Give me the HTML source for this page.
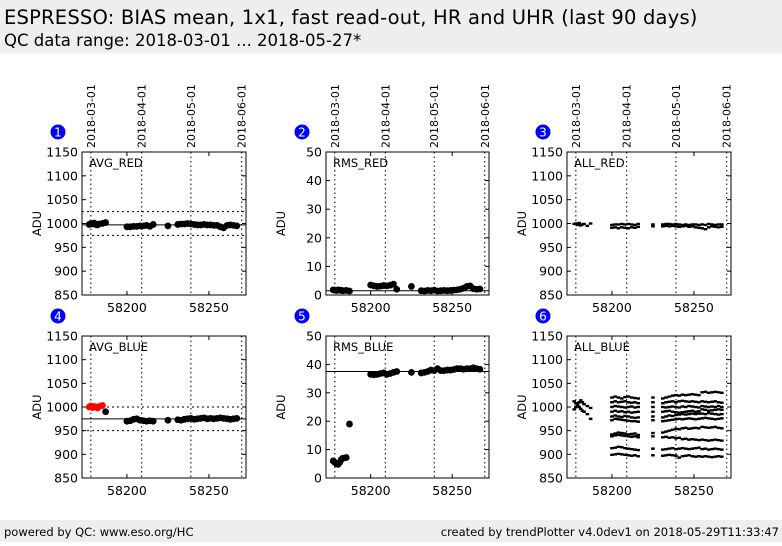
<!DOCTYPE html>
<html><head><meta charset="utf-8"><style>
body{margin:0;width:782px;height:542px;background:#fff;font-family:"DejaVu Sans","Liberation Sans",sans-serif;overflow:hidden}
svg text{font-family:"DejaVu Sans","Liberation Sans",sans-serif}
</style></head><body>
<svg id="c" width="782" height="542" xmlns="http://www.w3.org/2000/svg">
<rect x="0" y="0" width="782" height="53" fill="#eeeeee"/>
<text x="4" y="24" font-size="19.5" letter-spacing="0.2">ESPRESSO: BIAS mean, 1x1, fast read-out, HR and UHR (last 90 days)</text>
<text x="4" y="46" font-size="16.5">QC data range: 2018-03-01 ... 2018-05-27*</text>
<rect x="0" y="520" width="782" height="22" fill="#eeeeee"/>
<text x="4" y="536" font-size="11.5">powered by QC: www.eso.org/HC</text>
<text x="779" y="536" font-size="11.5" text-anchor="end">created by trendPlotter v4.0dev1 on 2018-05-29T11:33:47</text>
<g id="plots"></g>
</svg>
<script>
const dateTicks=[58178,58209,58239,58270];
const dateLabels=['2018-03-01','2018-04-01','2018-05-01','2018-06-01'];
const xTicks=[58200,58250];
const dayEarly=[58177,58178,58179,58180,58181,58182,58183,58185,58187];
const dayMain=[58200,58202,58204,58206,58208,58210,58212,58214,58216,58225,58231,58233,58235,58237,58239,58241,58243,58245,58247,58249,58251,58253,58255,58257,58259,58261,58263,58265,58267];
const avgRedEarly=[998,1000,999,1001,998,997,999,1000,1002];
const avgRedMain=[993,993,994,994,995,995,996,994,998,995,998,999,999,1000,999,998,997,997,998,997,997,996,996,993,991,996,997,996,995];
const rmsRedEarly=[1.8,1.7,1.6,1.8,1.7,1.6,1.5,1.6,1.4];
const rmsRedMain=[3.5,3.2,3.0,3.1,3.3,3.2,3.4,3.8,2.0,3.0,1.5,1.4,1.6,1.5,1.7,1.4,1.5,1.6,1.5,1.6,1.7,1.8,2.0,2.4,3.0,3.2,2.2,2.0,2.1];
const allRedEarly=[999,1000,997,1001,996,998,999,995,1000];
const allRedMain1=[997,998,998,999,998,999,998,997,999,998,998,999,999,998,999,998,997,998,997,998,998,997,998,997,999,998,997,998,998];
const allRedMain2=[991,992,990,992,991,990,992,991,993,994,994,995,994,995,994,993,994,995,993,994,992,991,990,988,992,994,993,992,993];
const avgBlueEarly=[1000,1002,999,1001,1000,998,1001,1003,990];
const avgBlueMain=[970,971,974,975,972,971,970,971,970,972,973,972,974,975,976,974,975,976,977,975,976,975,976,977,976,975,974,975,976];
const rmsBlueEarly=[6,5.5,5,4.8,5.5,6.5,7,7.2,19];
const rmsBlueMain=[36.5,36.3,36.5,36.8,37,36.5,36.8,37.2,37.5,37.2,37,37.2,37.5,38,37.8,38.5,37.8,37.8,38,38,38.2,38.5,38.5,38.3,38.5,38.5,38.8,38.5,38.3];
const allBlueEarly=[1012,1008,1004,1000,996,1010,1006,1002,998];
const allBlueEarly2=[995,1000,1005,1010,1014,992,990,985,975];
const allBlueL1=[1020,1022,1020,1018,1021,1022,1020,1019,1018,1020,1018,1020,1022,1024,1025,1024,1026,1025,1026,1027,1026,1025,1031,1032,1030,1031,1032,1031,1030];
const allBlueL2=[1010,1012,1010,1011,1012,1010,1009,1010,1008,1010,1008,1010,1011,1012,1010,1012,1013,1012,1011,1012,1011,1010,1012,1011,1010,1011,1012,1010,1009];
const allBlueL3=[1000,1002,1001,1000,999,1000,1001,999,1000,1000,1000,999,1000,1001,1000,999,1001,1000,1002,1001,1000,999,1002,1001,1000,1001,1000,1002,1000];
const allBlueL4=[990,992,990,991,989,990,988,989,990,990,990,991,992,990,989,988,989,990,991,992,990,991,995,994,992,993,994,995,994];
const allBlueL5=[980,982,980,979,981,980,978,977,978,980,978,980,982,981,983,984,985,984,985,986,985,986,986,985,987,986,985,984,985];
const allBlueL6=[972,975,974,973,972,971,970,970,969,972,970,971,972,973,974,975,974,975,976,975,974,975,976,977,976,975,974,975,976];
const allBlueL7=[942,944,946,945,944,942,943,944,941,945,946,948,950,952,954,953,955,956,954,955,956,955,958,957,956,957,958,956,955];
const allBlueL8=[938,940,941,940,939,938,937,938,936,938,936,937,935,936,934,935,932,933,931,932,931,930,931,930,929,930,931,930,929];
const allBlueL9=[913,914,916,915,913,912,911,910,909,912,910,911,912,913,911,912,913,912,911,912,913,914,911,912,910,911,912,911,910];
const allBlueL10=[899,900,901,900,899,898,897,898,896,898,897,898,899,898,897,893,896,897,898,896,895,896,895,896,895,894,895,896,895];

const P=document.getElementById('plots');
const NS='http://www.w3.org/2000/svg';
function mk(tag,attrs,parent){const e=document.createElementNS(NS,tag);for(const k in attrs)e.setAttribute(k,attrs[k]);(parent||P).appendChild(e);return e;}
const xmin=58172.6,xmax=58272.6;
function panel(cfg){
  const {L,T,W,H,ymin,ymax,yt,label,num,showDates}=cfg;
  const g=mk('g',{});
  
  
  const sx=v=>L+(v-xmin)/(xmax-xmin)*W;
  const sy=v=>T+H-(v-ymin)/(ymax-ymin)*H;
  dateTicks.forEach((d,i)=>{
    const l=mk('line',{x1:sx(d),x2:sx(d),y1:T,y2:T+H,stroke:'#000','stroke-width':1,'stroke-dasharray':'1.5,3'},g);
    
    
    if(showDates){
      const t=mk('text',{x:0,y:0,'font-size':11,transform:`translate(${sx(d)+4},${T-4}) rotate(-90)`},g);
      t.textContent=dateLabels[i];
      
      
    }
  });
  (cfg.dashed||[]).forEach(v=>{
    const l=mk('line',{x1:L,x2:L+W,y1:sy(v),y2:sy(v),stroke:'#000','stroke-width':1,'stroke-dasharray':'2,3'},g);
    
    
  });
  if(cfg.ref!==undefined){
    const l=mk('line',{x1:L,x2:L+W,y1:sy(cfg.ref),y2:sy(cfg.ref),stroke:'#000','stroke-width':1},g);
    
    
  }
  cfg.series.forEach(s=>{
    s.days.forEach((d,i)=>{
      if(s.vals[i]===undefined)return;
      let e;
      if(s.kind==='dot') e=mk('circle',{cx:sx(d),cy:sy(s.vals[i]),r:3.4,fill:(s.colors?s.colors[i]:'#000')},g);
      else e=mk('rect',{x:sx(d)-1.8,y:sy(s.vals[i])-1.2,width:3.6,height:2.4,fill:'#000'},g);
      
      
    });
  });
  const fr=mk('rect',{x:L,y:T,width:W,height:H,fill:'none',stroke:'#000','stroke-width':1},g);
  
  
  yt.forEach(v=>{
    mk('line',{x1:L,x2:L+4,y1:sy(v),y2:sy(v),stroke:'#000'},g);
    mk('line',{x1:L+W-4,x2:L+W,y1:sy(v),y2:sy(v),stroke:'#000'},g);
    const t=mk('text',{x:L-4,y:sy(v)+4.5,'font-size':12.5,'text-anchor':'end'},g);
    t.textContent=v;
    
    
  });
  xTicks.forEach(v=>{
    mk('line',{x1:sx(v),x2:sx(v),y1:T+H,y2:T+H-4,stroke:'#000'},g);
    mk('line',{x1:sx(v),x2:sx(v),y1:T,y2:T+4,stroke:'#000'},g);
    const t=mk('text',{x:sx(v),y:T+H+17,'font-size':12.5,'text-anchor':'middle'},g);
    t.textContent=v;
    
    
  });
  const yl=mk('text',{x:0,y:0,'font-size':11.5,'text-anchor':'middle',transform:`translate(${L-41},${T+H/2}) rotate(-90)`},g);
  yl.textContent='ADU';
  
  
  const lb=mk('text',{x:L+7,y:T+15,'font-size':11.5},g);
  lb.textContent=label;
  
  
  const c=mk('circle',{cx:L-24,cy:T-20,r:7.5,fill:'#0000ff'},g);
  
  
  const n=mk('text',{x:L-24,y:T-15.5,'font-size':12,'text-anchor':'middle',fill:'#fff'},g);
  n.textContent=num;
  
  
}
const ADUT=[850,900,950,1000,1050,1100,1150], RMST=[0,10,20,30,40,50];
const early=dayEarly, main=dayMain;
const redCol=dayEarly.map((d,i)=>i<dayEarly.length-1?'#ff0000':'#000');
panel({name:'panel-avg-red',L:82,T:152,W:164,H:143,ymin:850,ymax:1150,yt:ADUT,label:'AVG_RED',num:1,showDates:true,dashed:[1025,975],ref:997,
  series:[{kind:'dot',days:early,vals:avgRedEarly},{kind:'dot',days:main,vals:avgRedMain}]});
panel({name:'panel-rms-red',L:326,T:152,W:163,H:143,ymin:0,ymax:50,yt:RMST,label:'RMS_RED',num:2,showDates:true,ref:1.5,
  series:[{kind:'dot',days:early,vals:rmsRedEarly},{kind:'dot',days:main,vals:rmsRedMain}]});
panel({name:'panel-all-red',L:567,T:152,W:164,H:143,ymin:850,ymax:1150,yt:ADUT,label:'ALL_RED',num:3,showDates:true,
  series:[{kind:'sq',days:early,vals:allRedEarly},{kind:'sq',days:main,vals:allRedMain1},{kind:'sq',days:main,vals:allRedMain2}]});
panel({name:'panel-avg-blue',L:82,T:336,W:164,H:142,ymin:850,ymax:1150,yt:ADUT,label:'AVG_BLUE',num:4,showDates:false,dashed:[1000,950],ref:975,
  series:[{kind:'dot',days:early,vals:avgBlueEarly,colors:redCol},{kind:'dot',days:main,vals:avgBlueMain}]});
panel({name:'panel-rms-blue',L:326,T:336,W:163,H:142,ymin:0,ymax:50,yt:RMST,label:'RMS_BLUE',num:5,showDates:false,ref:37.5,
  series:[{kind:'dot',days:early,vals:rmsBlueEarly},{kind:'dot',days:main,vals:rmsBlueMain}]});
panel({name:'panel-all-blue',L:567,T:336,W:164,H:142,ymin:850,ymax:1150,yt:ADUT,label:'ALL_BLUE',num:6,showDates:false,
  series:[{kind:'sq',days:early,vals:allBlueEarly},{kind:'sq',days:early,vals:allBlueEarly2},
  {kind:'sq',days:main,vals:allBlueL1},{kind:'sq',days:main,vals:allBlueL2},{kind:'sq',days:main,vals:allBlueL3},{kind:'sq',days:main,vals:allBlueL4},{kind:'sq',days:main,vals:allBlueL5},{kind:'sq',days:main,vals:allBlueL6},{kind:'sq',days:main,vals:allBlueL7},{kind:'sq',days:main,vals:allBlueL8},{kind:'sq',days:main,vals:allBlueL9},{kind:'sq',days:main,vals:allBlueL10}]});
</script>
</body></html>
